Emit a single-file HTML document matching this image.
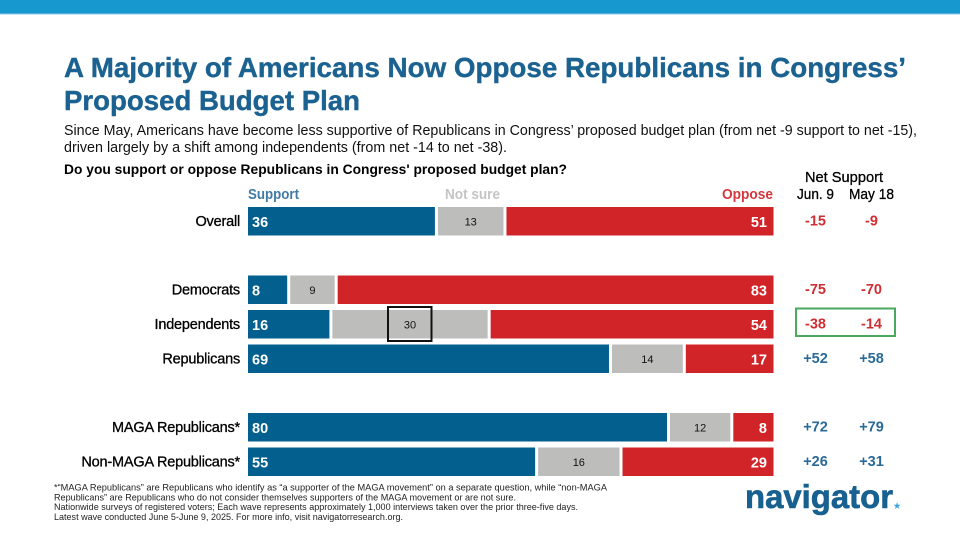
<!DOCTYPE html>
<html lang="en">
<head>
<meta charset="utf-8">
<title>A Majority of Americans Now Oppose Republicans in Congress' Proposed Budget Plan</title>
<style>
html,body{margin:0;padding:0;background:#fff;width:960px;height:540px;overflow:hidden}
svg{display:block}
text{font-family:"Liberation Sans",sans-serif}
</style>
</head>
<body>
<svg id="slide" width="960" height="540" viewBox="0 0 960 540" xmlns="http://www.w3.org/2000/svg">
  <rect x="0" y="0" width="960" height="540" fill="#ffffff"/>
  <rect x="0" y="0" width="960" height="14" fill="#1799cf"/>
  <rect x="0" y="13.5" width="960" height="1" fill="#8cc9e6"/>

  <text x="64" y="77" font-size="28" font-weight="700" fill="#1b6291" stroke="#1b6291" stroke-width="0.4" textLength="842" lengthAdjust="spacingAndGlyphs">A Majority of Americans Now Oppose Republicans in Congress’</text>
  <text x="64" y="110" font-size="28" font-weight="700" fill="#1b6291" stroke="#1b6291" stroke-width="0.4" textLength="296" lengthAdjust="spacingAndGlyphs">Proposed Budget Plan</text>

  <text x="64" y="135" font-size="14.5" fill="#111" textLength="853" lengthAdjust="spacingAndGlyphs">Since May, Americans have become less supportive of Republicans in Congress’ proposed budget plan (from net -9 support to net -15),</text>
  <text x="64" y="152" font-size="14.5" fill="#111" textLength="443" lengthAdjust="spacingAndGlyphs">driven largely by a shift among independents (from net -14 to net -38).</text>
  <text x="64" y="174" font-size="13.5" font-weight="700" fill="#000" textLength="503" lengthAdjust="spacingAndGlyphs">Do you support or oppose Republicans in Congress' proposed budget plan?</text>

  <text x="248" y="199" font-size="14.5" font-weight="700" fill="#3f7ba6" textLength="51" lengthAdjust="spacingAndGlyphs">Support</text>
  <text x="445" y="199" font-size="14.5" font-weight="700" fill="#c4c4c4" textLength="55" lengthAdjust="spacingAndGlyphs">Not sure</text>
  <text x="722" y="199" font-size="14.5" font-weight="700" fill="#d2383c" textLength="51" lengthAdjust="spacingAndGlyphs">Oppose</text>

  <text x="805" y="182" font-size="15" fill="#000" stroke="#000" stroke-width="0.3" textLength="78" lengthAdjust="spacingAndGlyphs">Net Support</text>
  <text x="797" y="199" font-size="15" fill="#000" stroke="#000" stroke-width="0.3" textLength="37" lengthAdjust="spacingAndGlyphs">Jun. 9</text>
  <text x="849" y="199" font-size="15" fill="#000" stroke="#000" stroke-width="0.3" textLength="45" lengthAdjust="spacingAndGlyphs">May 18</text>

  <g id="chart"></g>

  <rect x="388" y="307" width="43.5" height="34" fill="none" stroke="#111" stroke-width="2"/>
  <rect x="796" y="308.5" width="99" height="27.5" fill="none" stroke="#4aa85f" stroke-width="2"/>

  <text x="54" y="490.5" font-size="9.3" fill="#222" textLength="553" lengthAdjust="spacingAndGlyphs">*“MAGA Republicans” are Republicans who identify as “a supporter of the MAGA movement” on a separate question, while “non-MAGA</text>
  <text x="54" y="500.5" font-size="9.3" fill="#222" textLength="462" lengthAdjust="spacingAndGlyphs">Republicans” are Republicans who do not consider themselves supporters of the MAGA movement or are not sure.</text>
  <text x="54" y="510" font-size="9.3" fill="#222" textLength="524" lengthAdjust="spacingAndGlyphs">Nationwide surveys of registered voters; Each wave represents approximately 1,000 interviews taken over the prior three-five days.</text>
  <text x="54" y="520" font-size="9.3" fill="#222" textLength="349" lengthAdjust="spacingAndGlyphs">Latest wave conducted June 5-June 9, 2025. For more info, visit navigatorresearch.org.</text>

  <text x="745" y="508" font-size="33" font-weight="700" fill="#17608f" stroke="#17608f" stroke-width="0.6" textLength="148" lengthAdjust="spacingAndGlyphs">navigator</text>
  <text x="893.5" y="508.5" font-size="8" font-weight="700" fill="#3fa6d6">★</text>
</svg>

<script>
const categories = ['Overall', 'Democrats', 'Independents', 'Republicans', 'MAGA Republicans*', 'Non-MAGA Republicans*'];
const groups = [0, 1, 1, 1, 2, 2];
const support = [36, 8, 16, 69, 80, 55];
const notSure = [13, 9, 30, 14, 12, 16];
const oppose = [51, 83, 54, 17, 8, 29];
const netJun9 = ['-15', '-75', '-38', '+52', '+72', '+26'];
const netMay18 = ['-9', '-70', '-14', '+58', '+79', '+31'];

const SVG_NS = 'http://www.w3.org/2000/svg';
const chart = document.getElementById('chart');
const PLOT_LEFT = 248;
const PLOT_RIGHT = 775.5;
const BAR_HEIGHT = 28.5;
const BAR_GAP = 3;
const END_TRIM = 2;

function xScale(v) {
  return PLOT_LEFT + (PLOT_RIGHT - PLOT_LEFT) * v / 100;
}
function rowTop(i) {
  const groupOffset = [-68.5, 0, 137.5][groups[i]];
  const indexInGroup = i - groups.indexOf(groups[i]);
  return 275.5 + groupOffset + indexInGroup * 34.5;
}
function makeText(str, x, y, size, fill, anchor) {
  const t = document.createElementNS(SVG_NS, 'text');
  t.setAttribute('x', x);
  t.setAttribute('y', y);
  t.setAttribute('font-size', size);
  t.setAttribute('fill', fill);
  t.setAttribute('text-anchor', anchor);
  t.textContent = str;
  chart.appendChild(t);
  return t;
}
function makeBar(x0, x1, y, fill) {
  const r = document.createElementNS(SVG_NS, 'rect');
  r.setAttribute('x', x0);
  r.setAttribute('y', y);
  r.setAttribute('width', Math.max(0, x1 - x0));
  r.setAttribute('height', BAR_HEIGHT);
  r.setAttribute('fill', fill);
  chart.appendChild(r);
  return r;
}

categories.forEach(function (cat, i) {
  const y = rowTop(i);
  const mid = y + BAR_HEIGHT / 2;
  const slug = cat.toLowerCase().replace(/[^a-z]+/g, '-').replace(/-$/, '');
  const b1 = xScale(support[i]);
  const b2 = xScale(support[i] + notSure[i]);
  const b3 = xScale(support[i] + notSure[i] + oppose[i]) - END_TRIM;

  const label = makeText(cat, 240, mid + 4.5, 14.5, '#000', 'end');
  label.setAttribute('stroke', '#000');
  label.setAttribute('stroke-width', '0.3');
  label.setAttribute('letter-spacing', '-0.2');
  
  

  const barS = makeBar(PLOT_LEFT, b1 - BAR_GAP, y, '#025f8e');
  
  

  const barN = makeBar(b1, b2 - BAR_GAP, y, '#bdbdbc');
  
  

  const barO = makeBar(b2, b3, y, '#d12428');
  
  

  const vS = makeText(support[i], PLOT_LEFT + 4, mid + 5.5, 14.5, '#fff', 'start');
  vS.setAttribute('font-weight', '700');
  
  

  const vN = makeText(notSure[i], (b1 + b2 - BAR_GAP) / 2, mid + 4, 11, '#111', 'middle');
  
  

  const vO = makeText(oppose[i], b3 - 6.5, mid + 5.5, 14.5, '#fff', 'end');
  vO.setAttribute('font-weight', '700');
  
  

  const colorA = netJun9[i].charAt(0) === '-' ? '#cf2f34' : '#2a6a98';
  const colorB = netMay18[i].charAt(0) === '-' ? '#cf2f34' : '#2a6a98';

  const n1 = makeText(netJun9[i], 815.5, mid + 4, 14.5, colorA, 'middle');
  n1.setAttribute('font-weight', '700');
  
  

  const n2 = makeText(netMay18[i], 871.5, mid + 4, 14.5, colorB, 'middle');
  n2.setAttribute('font-weight', '700');
  
  
});
</script>
</body>
</html>
